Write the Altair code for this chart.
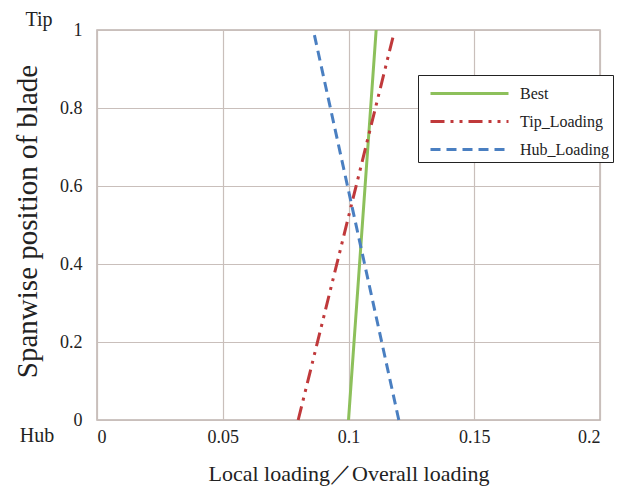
import altair as alt
import pandas as pd

series = ["Best", "Tip_Loading", "Hub_Loading"]
best_x = [0.100, 0.111]
best_y = [0.0, 1.0]
tip_x = [0.080, 0.118]
tip_y = [0.0, 0.99]
hub_x = [0.120, 0.086]
hub_y = [0.0, 1.0]

colors = ["#8dc05b", "#c0393b", "#4a7fc1"]
dashes = [[1, 0], [14, 6, 3, 6, 3, 6], [10, 6]]

rows = []
for name, xs, ys in [("Best", best_x, best_y), ("Tip_Loading", tip_x, tip_y), ("Hub_Loading", hub_x, hub_y)]:
    for i, (xv, yv) in enumerate(zip(xs, ys)):
        rows.append({"series": name, "x": xv, "y": yv, "order": i})
df = pd.DataFrame(rows)

end_labels = ["Tip", "Hub"]
end_values = [1.0, 0.0]
ends = pd.DataFrame({"label": end_labels, "y": end_values})

FONT = "Liberation Serif"

lines = alt.Chart(df).mark_line(strokeWidth=3).encode(
    x=alt.X("x:Q", scale=alt.Scale(domain=[0, 0.2], nice=False),
            axis=alt.Axis(values=[0, 0.05, 0.1, 0.15, 0.2], title="Local loading／Overall loading",
                          format="~g", labelFontSize=18, titleFontSize=22, titleFontWeight="normal",
                          titlePadding=17, labelPadding=8, ticks=False, domain=False,
                          gridColor="#c9bfbb", gridWidth=1.2, labelColor="#222", titleColor="#222")),
    y=alt.Y("y:Q", scale=alt.Scale(domain=[0, 1], nice=False),
            axis=alt.Axis(values=[0, 0.2, 0.4, 0.6, 0.8, 1], title="Spanwise position of blade",
                          format="~g", labelFontSize=18, titleFontSize=29, titleFontWeight="normal",
                          titlePadding=17, labelPadding=15, ticks=False, domain=False, titleY=191,
                          gridColor="#c9bfbb", gridWidth=1.2, labelColor="#222", titleColor="#222")),
    color=alt.Color("series:N", scale=alt.Scale(domain=series, range=colors),
                    legend=alt.Legend(title=None, orient="none", legendX=321, legendY=45,
                                      symbolType="M-3,0H3", symbolSize=676, symbolStrokeWidth=3,
                                      symbolOffset=33, symbolFillColor="transparent",
                                      labelFontSize=16, labelFont=FONT, labelColor="#222",
                                      strokeColor="#222", fillColor="white", padding=4,
                                      rowPadding=5, labelOffset=36)),
    strokeDash=alt.StrokeDash("series:N", scale=alt.Scale(domain=series, range=dashes), legend=None),
    order="order:Q",
    detail="series:N",
)

tip_label = alt.Chart(ends).transform_filter(alt.datum.label == "Tip").mark_text(
    font=FONT, fontSize=20, align="center", color="#222", dy=-10
).encode(y=alt.Y("y:Q"), x=alt.value(-58), text="label:N")

hub_label = alt.Chart(ends).transform_filter(alt.datum.label == "Hub").mark_text(
    font=FONT, fontSize=20, align="center", color="#222", dy=16
).encode(y=alt.Y("y:Q"), x=alt.value(-60), text="label:N")

chart = alt.layer(lines, tip_label, hub_label).properties(
    width=503, height=390,
    autosize=alt.AutoSizeParams(type="none"),
    padding={"left": 89, "top": 22, "right": 20, "bottom": 68},
).configure_view(stroke="#bdb3af", strokeWidth=1.5).configure_axis(
    labelFont=FONT, titleFont=FONT
)

chart.save("out.html", embed_options={"renderer": "svg", "actions": False})
